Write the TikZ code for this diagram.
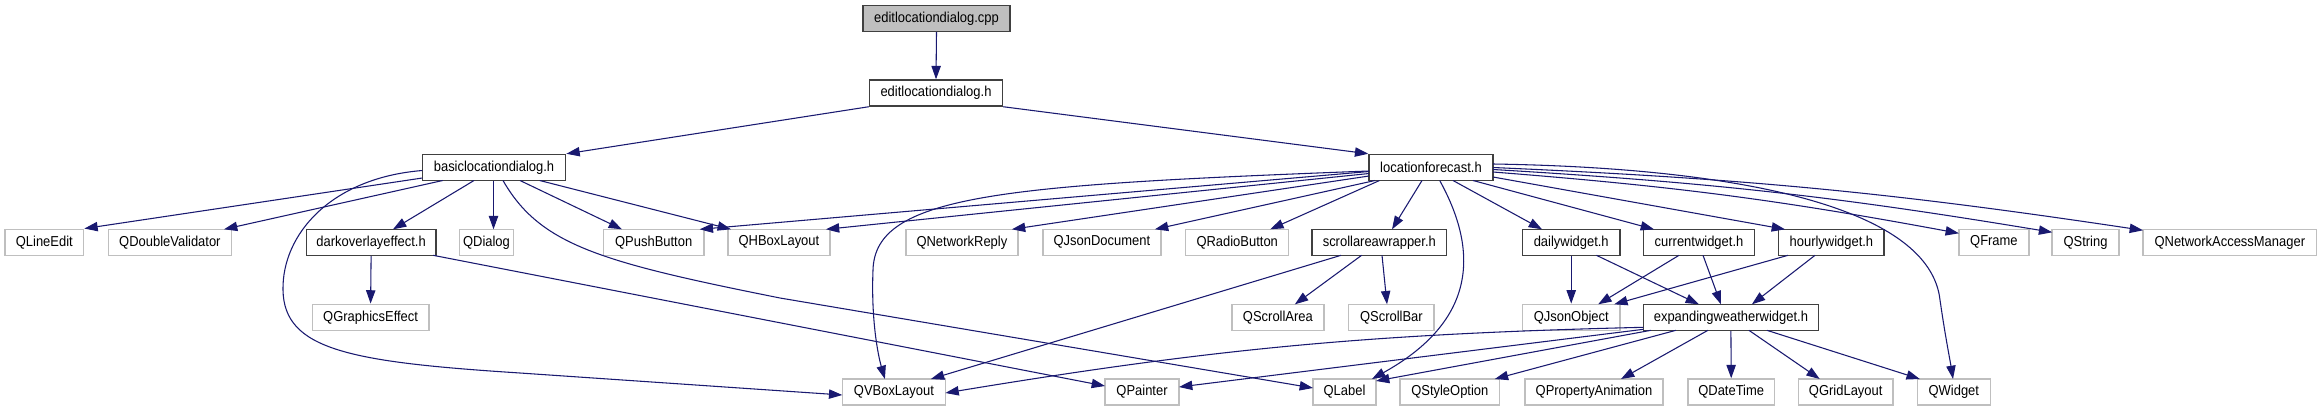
\documentclass[tikz,border=0pt]{standalone}
\usepackage{fontspec}
\setmainfont{Liberation Sans}[FakeStretch=0.9]
\usetikzlibrary{arrows.meta,calc}
\definecolor{edgeblue}{HTML}{191970}
\definecolor{extgray}{HTML}{BFBFBF}
\definecolor{filegray}{HTML}{404040}
\definecolor{cppfill}{HTML}{BFBFBF}
\begin{document}
\begin{tikzpicture}[x=0.75pt,y=-0.75pt,
  box/.style={rectangle, inner sep=0pt, minimum height=19.5pt, font=\fontsize{10.8}{12}\selectfont, text=black, fill=white, line width=1.1pt},
  filebox/.style={box, draw=filegray},
  extbox/.style={box, draw=extgray},
  srcbox/.style={box, draw=filegray, fill=cppfill},
  edge/.style={draw=edgeblue, line width=0.8pt, -{Triangle[length=10pt,width=7pt]}},
]
\useasboundingbox[fill=white] (0,0) rectangle (2322,411);

% row 0-2
\node[srcbox, minimum width=110pt, minimum height=19.2pt] (cpp) at (936.5,18.5) {editlocationdialog.cpp};
\node[filebox, minimum width=99.75pt] (elh) at (936,93) {editlocationdialog.h};
\node[filebox, minimum width=107.5pt] (bld) at (494,167.5) {basiclocationdialog.h};
\node[filebox, minimum width=93pt] (lf) at (1431,167.5) {locationforecast.h};

% row 3
\node[extbox, minimum width=59pt] (qle) at (44.3,242.3) {QLineEdit};
\node[extbox, minimum width=92.25pt] (qdv) at (169.9,242.3) {QDoubleValidator};
\node[filebox, minimum width=97pt] (dark) at (371.1,242.3) {darkoverlayeffect.h};
\node[extbox, minimum width=40.3pt] (qdlg) at (486.5,242.3) {QDialog};
\node[extbox, minimum width=75.4pt] (qpb) at (653.7,242.3) {QPushButton};
\node[extbox, minimum width=76.5pt] (qhb) at (778.9,242.3) {QHBoxLayout};
\node[extbox, minimum width=83.85pt] (qnr) at (961.9,242.3) {QNetworkReply};
\node[extbox, minimum width=88.5pt] (qjd) at (1101.9,242.3) {QJsonDocument};
\node[extbox, minimum width=77.25pt] (qrb) at (1237.2,242.3) {QRadioButton};
\node[filebox, minimum width=101pt] (saw) at (1379.3,242.3) {scrollareawrapper.h};
\node[filebox, minimum width=73.3pt] (daily) at (1571.2,242.3) {dailywidget.h};
\node[filebox, minimum width=83.1pt] (curr) at (1699,242.3) {currentwidget.h};
\node[filebox, minimum width=79pt] (hourly) at (1831.4,242.3) {hourlywidget.h};
\node[extbox, minimum width=52.5pt] (qfr) at (1993.9,242.3) {QFrame};
\node[extbox, minimum width=50pt] (qstr) at (2085.5,242.3) {QString};
\node[extbox, minimum width=130.2pt] (qnam) at (2229.8,242.3) {QNetworkAccessManager};

% row 4
\node[extbox, minimum width=87.3pt] (qge) at (370.6,317.3) {QGraphicsEffect};
\node[extbox, minimum width=69.2pt] (qsa) at (1277.9,317.3) {QScrollArea};
\node[extbox, minimum width=64pt] (qsb) at (1391.4,317.3) {QScrollBar};
\node[extbox, minimum width=73.1pt] (qjo) at (1571.2,317.3) {QJsonObject};
\node[filebox, minimum width=131.25pt] (exp) at (1730.9,317.3) {expandingweatherwidget.h};

% row 5
\node[extbox, minimum width=77.25pt] (qvb) at (893.9,392) {QVBoxLayout};
\node[extbox, minimum width=55.5pt] (qpa) at (1142,392) {QPainter};
\node[extbox, minimum width=47.25pt] (qla) at (1344.5,392) {QLabel};
\node[extbox, minimum width=74.6pt] (qso) at (1449.8,392) {QStyleOption};
\node[extbox, minimum width=103.5pt] (qpr) at (1594,392) {QPropertyAnimation};
\node[extbox, minimum width=65pt] (qdt) at (1731.2,392) {QDateTime};
\node[extbox, minimum width=70.8pt] (qgl) at (1845.7,392) {QGridLayout};
\node[extbox, minimum width=54.75pt] (qw) at (1953.8,392) {QWidget};

% top edges
\draw[edge] (cpp.south) -- (elh.north);
\draw[edge] (elh.south west) -- (bld.north east);
\draw[edge] (elh.south east) -- (lf.north west);

% basiclocationdialog.h
\draw[edge] ($(bld)+(-71.7,10.5)$) -- (qle.north east);
\draw[edge] ($(bld)+(-51.3,13)$) -- ($(qdv)+(54.1,-13)$);
\draw[edge] ($(bld)+(-20,13)$) -- ($(dark)+(21.9,-13)$);
\draw[edge] ($(bld)+(-0.5,13)$) -- ($(qdlg)+(7,-13)$);
\draw[edge] ($(bld)+(26,13)$) -- ($(qpb)+(-31.7,-13)$);
\draw[edge] ($(bld)+(45.7,13)$) -- ($(qhb)+(-47.9,-13)$);
\draw[edge] ($(bld)+(-71.7,3)$) .. controls (330,178) and (282,235) .. (283,290)
   .. controls (284,350) and (350,362) .. (520,373) -- ($(qvb)+(-51.6,3)$);
\draw[edge] ($(bld)+(9,13)$) .. controls (540,245) and (600,262) .. (780,298) -- ($(qla)+(-31.5,-4)$);

% darkoverlayeffect.h
\draw[edge] (dark.south) -- (qge.north);
\draw[edge] ($(dark)+(62,13)$) -- ($(qpa)+(-37,-6)$);

% locationforecast.h
\draw[edge] ($(lf)+(-62,3.5)$) .. controls (1000,185) and (875,195) .. (873,270)
   .. controls (871,320) and (878,355) .. ($(qvb)+(-9,-13)$);
\draw[edge] ($(lf)+(-62,6)$) -- ($(qhb)+(47,-13)$);
\draw[edge] ($(lf)+(-62,4)$) -- ($(qpb)+(46,-13)$);
\draw[edge] ($(lf)+(-62,8.5)$) -- ($(qnr)+(50,-13)$);
\draw[edge] ($(lf)+(-56,13)$) -- ($(qjd)+(53,-13)$);
\draw[edge] ($(lf)+(-51.5,13)$) -- ($(qrb)+(33,-13)$);
\draw[edge] ($(lf)+(-9,13)$) -- ($(saw)+(12.7,-13)$);
\draw[edge] ($(lf)+(8.7,13)$) .. controls (1478,250) and (1478,320) .. ($(qla)+(27.5,-13)$);
\draw[edge] ($(lf)+(22,13)$) -- ($(daily)+(-29.2,-13)$);
\draw[edge] ($(lf)+(42,13)$) -- ($(curr)+(-45,-13)$);
\draw[edge] ($(lf)+(62,9.5)$) -- ($(hourly)+(-46.4,-13)$);
\draw[edge] ($(lf)+(62,-3.5)$) .. controls (1750,168) and (1930,210) .. (1940,300)
   .. controls (1945,335) and (1950,360) .. ($(qw)+(-0.8,-13)$);
\draw[edge] ($(lf)+(62,4.5)$) to[bend left=3] ($(qfr)+(-35,-9)$);
\draw[edge] ($(lf)+(62,2)$) to[bend left=3] ($(qstr)+(-33.3,-10)$);
\draw[edge] ($(lf)+(62,0)$) to[bend left=3] ($(qnam)+(-86.8,-12)$);

% scrollareawrapper.h
\draw[edge] ($(saw)+(-17.7,13)$) -- ($(qsa)+(17,-13)$);
\draw[edge] ($(saw)+(2.7,13)$) -- ($(qsb)+(-4.4,-13)$);
\draw[edge] ($(saw)+(-38.3,13)$) -- ($(qvb)+(37,-13)$);

% widgets
\draw[edge] (daily.south) -- (qjo.north);
\draw[edge] ($(daily)+(25.2,13)$) -- ($(exp)+(-32,-13)$);
\draw[edge] ($(curr)+(-20,13)$) -- ($(qjo)+(27,-13)$);
\draw[edge] ($(curr)+(4,13)$) -- ($(exp)+(-10,-13)$);
\draw[edge] ($(hourly)+(-43.4,13)$) -- ($(qjo)+(43,-13)$);
\draw[edge] ($(hourly)+(-16.4,13)$) -- ($(exp)+(21,-13)$);

% expandingweatherwidget.h
\draw[edge] ($(exp)+(-87.5,10)$) to[bend right=4] ($(qvb)+(51.5,1)$);
\draw[edge] ($(exp)+(-87.5,12)$) -- ($(qpa)+(37,-5)$);
\draw[edge] ($(exp)+(-80,13)$) -- ($(qla)+(31.5,-11)$);
\draw[edge] ($(exp)+(-55,13)$) -- ($(qso)+(45,-13)$);
\draw[edge] ($(exp)+(-23,13)$) -- ($(qpr)+(27,-13)$);
\draw[edge] (exp.south) -- (qdt.north);
\draw[edge] ($(exp)+(18,13)$) -- ($(qgl)+(-26,-13)$);
\draw[edge] ($(exp)+(36,13)$) -- ($(qw)+(-34,-13)$);
\end{tikzpicture}
\end{document}
